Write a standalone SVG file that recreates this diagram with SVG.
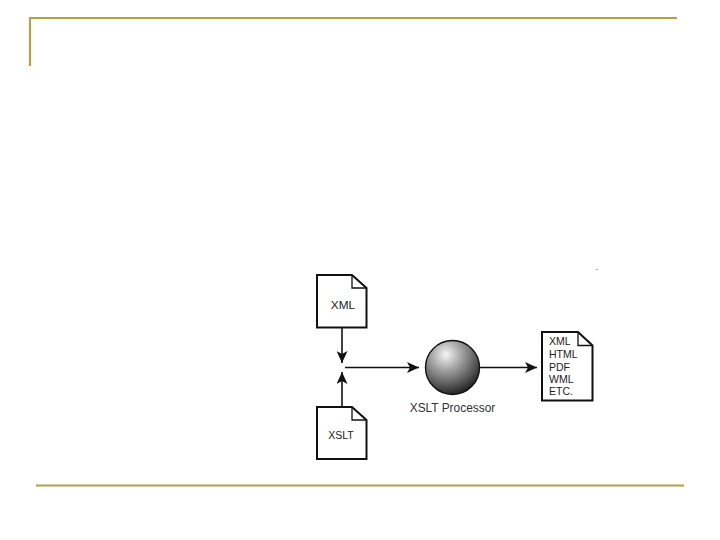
<svg xmlns="http://www.w3.org/2000/svg" width="720" height="540" viewBox="0 0 720 540">
<style>
.frame{stroke:#b5a04a;stroke-width:2.2;fill:none}
.doc{fill:#fff;stroke:#111;stroke-width:2;stroke-linejoin:miter}
.fold{fill:none;stroke:#111;stroke-width:1.3}
.conn{stroke:#111;stroke-width:1.6;fill:none}
text{font-family:"Liberation Sans",Arial,sans-serif;fill:#222;font-size:10.500px}
.big{font-size:11.800px}
.cap{font-size:11.900px;fill:#333}
</style>
<defs>
<radialGradient id="ball" cx="0.38" cy="0.26" r="0.8">
<stop offset="0" stop-color="#f4f4f4"/>
<stop offset="0.3" stop-color="#b0b0b0"/>
<stop offset="0.7" stop-color="#5a5a5a"/>
<stop offset="1" stop-color="#161616"/>
</radialGradient>
<marker id="arrow" markerUnits="userSpaceOnUse" markerWidth="13" markerHeight="11" refX="12" refY="5.500" orient="auto">
<path d="M0 0L12 5.500L0 11L3 5.500Z" fill="#111"/>
</marker>
</defs>
<rect width="720" height="540" fill="#fff"/>
<g id="frame">
<path class="frame" d="M30 66V18H677"/>
<path class="frame" d="M36 485.500H684"/>
</g>
<g id="connectors">
<path class="conn" d="M342 327V363" marker-end="url(#arrow)"/>
<path class="conn" d="M342 407V372" marker-end="url(#arrow)"/>
<path class="conn" d="M345 367.500H419" marker-end="url(#arrow)"/>
<path class="conn" d="M480 367.500H537" marker-end="url(#arrow)"/>
</g>
<g id="xml">
<path class="doc" d="M317 275H352L366.500 288V327.500H317Z"/>
<path class="fold" d="M352 275V288H366.500"/>
<text class="big" x="343" y="308.500" text-anchor="middle">XML</text>
</g>
<g id="xslt">
<path class="doc" d="M317 407H352L366.500 420V459H317Z"/>
<path class="fold" d="M352 407V420H366.500"/>
<text x="341" y="438.500" text-anchor="middle">XSLT</text>
</g>
<g id="processor">
<circle cx="452.500" cy="367.500" r="27" fill="url(#ball)" stroke="#111" stroke-width="1.400"/>
<text class="cap" x="452.500" y="412" text-anchor="middle">XSLT Processor</text>
</g>
<g id="output">
<path class="doc" d="M542 332H578L592.500 345.500V400.500H542Z"/>
<path class="fold" d="M578 332V345.500H592.500"/>
<text x="549" y="345">XML</text>
<text x="549" y="358">HTML</text>
<text x="549" y="370.500">PDF</text>
<text x="549" y="383">WML</text>
<text x="549" y="395">ETC.</text>
</g>
<rect id="speck" x="596.500" y="269" width="1" height="1" fill="#555"/>
</svg>
